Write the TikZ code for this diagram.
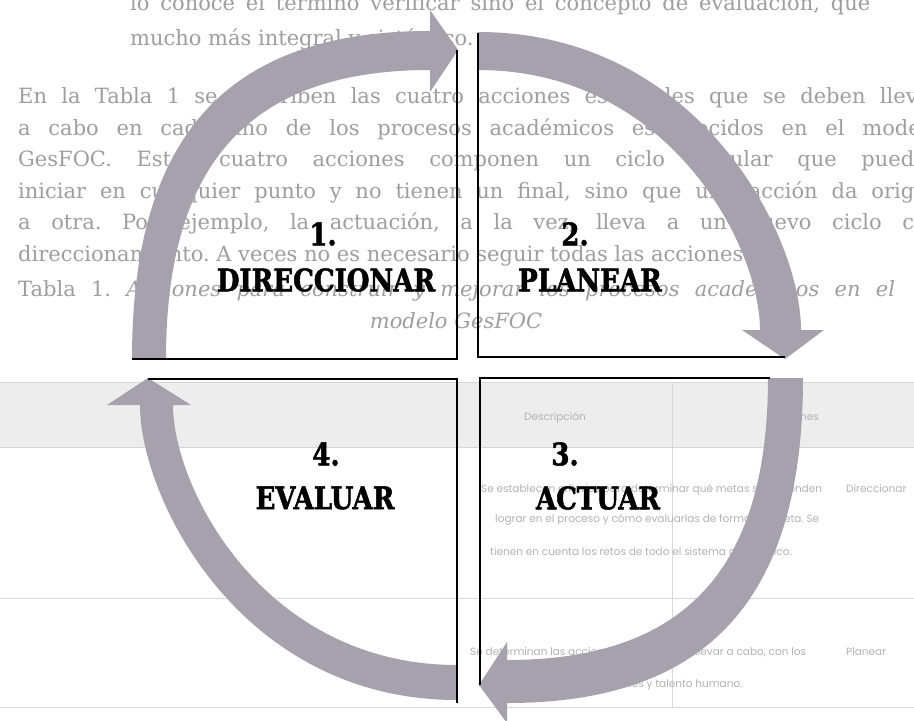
\documentclass[tikz,border=0pt]{standalone}
\usepackage{fontspec}
\setmainfont{DejaVu Serif}
\newfontfamily\labelfont{DejaVu Serif Bold}[FakeBold=1.6, FakeStretch=0.84]
\newfontfamily\tablefont{Poppins}
\definecolor{arrowgray}{RGB}{166,161,172}
\definecolor{pagetext}{RGB}{158,158,158}
\definecolor{tabletext}{RGB}{178,178,178}
\definecolor{tableband}{RGB}{237,237,237}
\definecolor{tablerule}{RGB}{215,215,215}
\begin{document}
\frenchspacing
\begin{tikzpicture}[x=1pt, y=-1pt,
	stagelabel/.style = {font=\labelfont\fontsize{31}{31}\selectfont, inner sep=0pt},
	pageline/.style = {anchor=base west, inner sep=0pt, text=pagetext, font=\fontsize{21}{21}\selectfont},
	tablecell/.style = {anchor=base west, inner sep=0pt, text=tabletext, font=\tablefont\fontsize{10.5}{10.5}\selectfont},
	quadline/.style = {line width=2.4pt},
	cyclearrow/.style = {fill=arrowgray}]
%	\draw[help lines] (0,0) grid[step=50] (914,721);
	\useasboundingbox (0,0) rectangle (914,721);
	\fill[white] (0,0) rectangle (914,721);
	\begin{scope}
	\clip (0,0) rectangle (914,721);
	% page behind the picture
	\fill[tableband] (0,382) rectangle (914,447);
	\draw[tablerule] (0,382) -- (914,382);
	\draw[tablerule] (0,447) -- (914,447);
	\draw[tablerule] (0,598) -- (914,598);
	\draw[tablerule] (0,707) -- (914,707);
	\draw[tablerule] (672,382) -- (672,707);
	\node (txt1) [pageline] at (130,10) {\makebox[740pt][s]{lo conoce el término verificar sino el concepto de evaluación, que}};
	\node (txt2) [pageline] at (130,45) {mucho más integral y sistémico.};
	\node (txt3) [pageline] at (18,103) {\makebox[922pt][s]{En la Tabla 1 se describen las cuatro acciones esenciales que se deben llevar}};
	\node (txt4) [pageline] at (18,135) {\makebox[922pt][s]{a cabo en cada uno de los procesos académicos establecidos en el modelo}};
	\node (txt5) [pageline] at (18,166) {\makebox[922pt][s]{GesFOC. Estas cuatro acciones componen un ciclo circular que pueden}};
	\node (txt6) [pageline] at (18,198) {\makebox[922pt][s]{iniciar en cualquier punto y no tienen un final, sino que una acción da origen}};
	\node (txt7) [pageline] at (18,229) {\makebox[922pt][s]{a otra. Por ejemplo, la actuación, a la vez, lleva a un nuevo ciclo con}};
	\node (txt8) [pageline] at (18,261) {direccionamiento. A veces no es necesario seguir todas las acciones.};
	\node (cap1) [pageline] at (18,296) {\makebox[877pt][s]{Tabla 1. \textit{Acciones para construir y mejorar los procesos académicos en el}}};
	\node (cap2) [pageline, anchor=base] at (456,328) {\textit{modelo GesFOC}};
	\node (head1) [tablecell, anchor=base] at (795,420) {Acciones};
	\node (head2) [tablecell, anchor=base] at (555,420) {Descripción};
	\node (row1) [tablecell] at (846,492) {Direccionar};
	\node (row1a) [tablecell] at (481,492) {Se establecen criterios para determinar qué metas se pretenden};
	\node (row1b) [tablecell] at (495,522) {lograr en el proceso y cómo evaluarlas de forma concreta. Se};
	\node (row1c) [tablecell] at (490,555) {tienen en cuenta los retos de todo el sistema académico.};
	\node (row2) [tablecell] at (846,655) {Planear};
	\node (row2a) [tablecell] at (470,655) {Se determinan las acciones concretas por llevar a cabo, con los};
	\node (row2b) [tablecell] at (478,687) {correspondientes responsables y talento humano.};
	% the four arrows of the cycle
	\fill[cyclearrow] (132,359) .. controls (132,136) and (227,31) .. (430,31) -- (430,10) -- (458,50) -- (430,92)
		-- (430,70) .. controls (250,70) and (166,163) .. (166,359) -- cycle;
	\fill[cyclearrow] (478,32) .. controls (698,32) and (801,235) .. (801,330) -- (824,330) -- (785,359) -- (742,330)
		-- (760,330) .. controls (760,247) and (670,70) .. (478,70) -- cycle;
	\fill[cyclearrow] (803,378) .. controls (803,599) and (708,703) .. (507,703) -- (507,723) -- (479,685) -- (507,642)
		-- (507,660) .. controls (684,660) and (768,570) .. (768,378) -- cycle;
	\fill[cyclearrow] (457,700) .. controls (241,700) and (140,499) .. (140,405) -- (107,405) -- (148,378) -- (191,405)
		-- (173,405) .. controls (173,488) and (264,665) .. (457,665) -- cycle;
	\end{scope}
	% quadrant corners
	\coordinate (tl-top) at (457,50);
	\coordinate (tl-corner) at (457,359);
	\coordinate (tl-left) at (132,359);
	\coordinate (tr-top) at (478,33);
	\coordinate (tr-corner) at (478,357);
	\coordinate (tr-right) at (785,357);
	\coordinate (br-right) at (770,378);
	\coordinate (br-corner) at (480,378);
	\coordinate (br-bottom) at (480,685);
	\coordinate (bl-left) at (148,379);
	\coordinate (bl-corner) at (457,379);
	\coordinate (bl-bottom) at (457,703);
	\draw[quadline] (tl-top) -- (tl-corner) -- (tl-left);
	\draw[quadline] (tr-top) -- (tr-corner) -- (tr-right);
	\draw[quadline] (br-right) -- (br-corner) -- (br-bottom);
	\draw[quadline] (bl-left) -- (bl-corner) -- (bl-bottom);
	% labels
	\node (num1) [stagelabel] at (323,234) {1.};
	\node (direccionar) [stagelabel] at (326,280) {DIRECCIONAR};
	\node (num2) [stagelabel] at (575,234) {2.};
	\node (planear) [stagelabel] at (590,280) {PLANEAR};
	\node (num3) [stagelabel] at (565,454) {3.};
	\node (actuar) [stagelabel] at (598,498) {ACTUAR};
	\node (num4) [stagelabel] at (326,454) {4.};
	\node (evaluar) [stagelabel] at (325,498) {EVALUAR};
\end{tikzpicture}
\end{document}
